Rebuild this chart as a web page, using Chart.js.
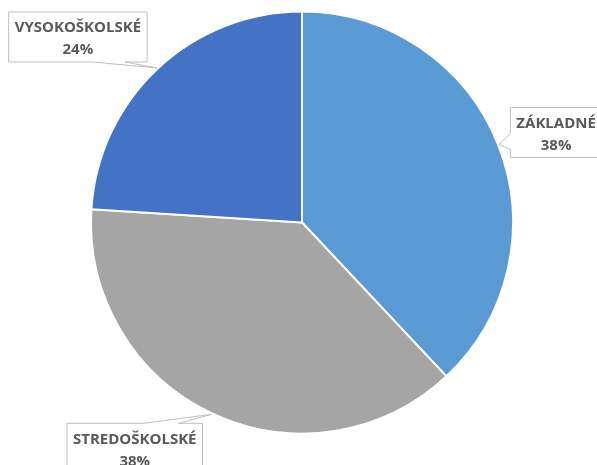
<!DOCTYPE html>
<html>
<head>
<meta charset="utf-8">
<script src="https://cdn.jsdelivr.net/npm/chart.js@4"></script>
<style>
  html, body { margin: 0; padding: 0; background: #fff; overflow: hidden; }
</style>
</head>
<body>
<canvas id="pieChart" width="597" height="465"></canvas>
<script>
// Data
const categories = ['ZÁKLADNÉ', 'STREDOŠKOLSKÉ', 'VYSOKOŠKOLSKÉ'];
const shares = [38, 38, 24];
const sliceColors = ['#5B9BD5', '#A5A5A5', '#4472C4'];

// Callout placement relative to the point where the pointer meets the slice edge
// side: edge of the box the pointer leaves from, base: pointer base offsets along that edge (from box centre)
const callouts = [
    { dx: 57, dy: -12, side: 'left', base: [1, 17] },
    { dx: -77, dy: 34, side: 'top', base: [9, 44] },
    { dx: -79, dy: -31, side: 'bottom', base: [14, 47] }
];

const calloutPlugin = {
    id: 'callouts',
    afterDraw(chart) {
        const ctx = chart.ctx;
        const arcs = chart.getDatasetMeta(0).data;
        const total = shares.reduce((a, b) => a + b, 0);
        ctx.save();
        ctx.font = 'bold 15px "Open Sans"';
        arcs.forEach((arc, i) => {
            const p = arc.getProps(['x', 'y', 'startAngle', 'endAngle', 'outerRadius'], true);
            const mid = (p.startAngle + p.endAngle) / 2;
            const r = p.outerRadius + 1;
            const tx = p.x + Math.cos(mid) * r;
            const ty = p.y + Math.sin(mid) * r;
            const c = callouts[i];
            const lines = [categories[i], Math.round(shares[i] / total * 100) + '%'];
            const w = Math.max(...lines.map(l => ctx.measureText(l).width)) + 12;
            const h = 50;
            const cx = tx + c.dx, cy = ty + c.dy;
            const L = cx - w / 2, R = cx + w / 2, T = cy - h / 2, B = cy + h / 2;

            ctx.beginPath();
            if (c.side === 'left') {
                ctx.moveTo(L, T); ctx.lineTo(R, T); ctx.lineTo(R, B); ctx.lineTo(L, B);
                ctx.lineTo(L, cy + c.base[1]); ctx.lineTo(tx, ty); ctx.lineTo(L, cy + c.base[0]);
            } else if (c.side === 'bottom') {
                ctx.moveTo(L, T); ctx.lineTo(R, T); ctx.lineTo(R, B);
                ctx.lineTo(cx + c.base[1], B); ctx.lineTo(tx, ty); ctx.lineTo(cx + c.base[0], B);
                ctx.lineTo(L, B);
            } else {
                ctx.moveTo(L, T); ctx.lineTo(cx + c.base[0], T); ctx.lineTo(tx, ty);
                ctx.lineTo(cx + c.base[1], T); ctx.lineTo(R, T); ctx.lineTo(R, B); ctx.lineTo(L, B);
            }
            ctx.closePath();
            ctx.fillStyle = '#ffffff';
            ctx.fill();
            ctx.strokeStyle = '#BFBFBF';
            ctx.lineWidth = 1;
            ctx.stroke();

            ctx.fillStyle = '#595959';
            ctx.textAlign = 'center';
            ctx.textBaseline = 'middle';
            ctx.fillText(lines[0], cx, cy - 9);
            ctx.fillText(lines[1], cx, cy + 13);
        });
        ctx.restore();
    }
};

new Chart(document.getElementById('pieChart').getContext('2d'), {
    type: 'pie',
    data: {
        labels: categories,
        datasets: [{
            data: shares,
            backgroundColor: sliceColors,
            borderColor: '#ffffff',
            borderWidth: 2
        }]
    },
    options: {
        responsive: false,
        animation: false,
        layout: {
            padding: { left: 90, right: 83, top: 10, bottom: 30 }
        },
        plugins: {
            legend: { display: false },
            tooltip: { enabled: false }
        }
    },
    plugins: [calloutPlugin]
});
</script>
</body>
</html>
